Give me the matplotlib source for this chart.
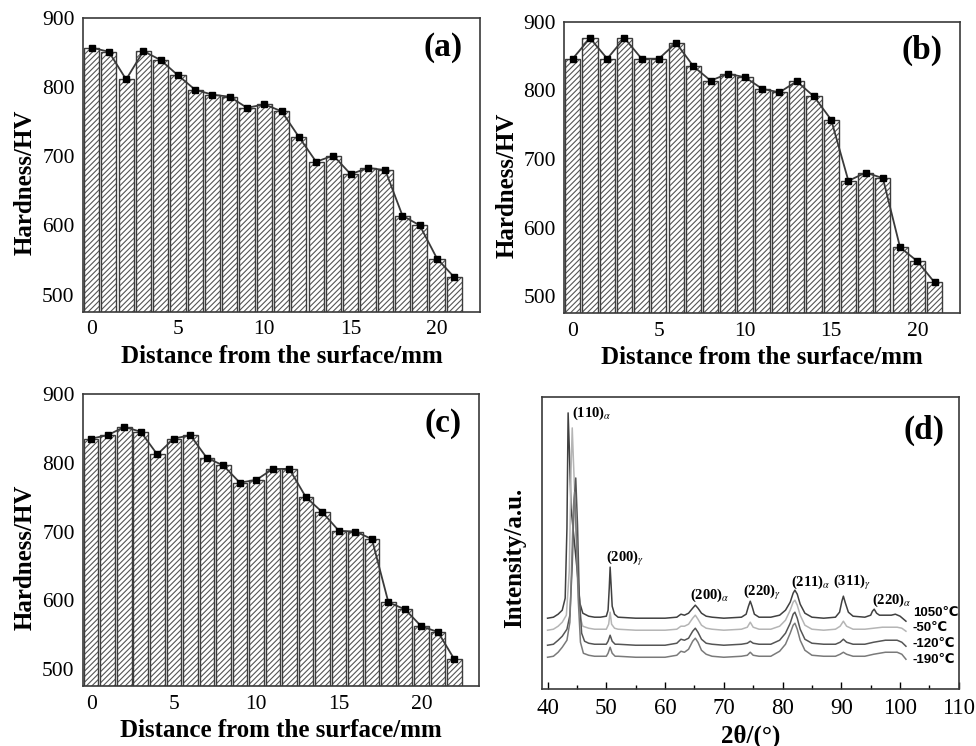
import matplotlib
matplotlib.use("Agg")
import matplotlib.pyplot as plt
import numpy as np
from matplotlib.ticker import MultipleLocator

plt.rcParams['font.family'] = ['Liberation Serif', 'DejaVu Serif']
plt.rcParams['mathtext.fontset'] = 'stix'
plt.rcParams['hatch.linewidth'] = 0.8

# ---------------- data ----------------
hard_a = [857, 851, 811, 852, 839, 817, 796, 789, 786, 770, 775, 765,
          728, 692, 701, 674, 683, 680, 614, 600, 552, 525]
hard_b = [846, 876, 846, 876, 846, 846, 869, 835, 814, 824, 819, 802,
          797, 813, 791, 757, 668, 680, 672, 571, 551, 520]
hard_c = [835, 840, 852, 845, 812, 835, 840, 807, 796, 771, 775, 791,
          791, 750, 728, 701, 700, 689, 597, 587, 562, 554, 514]

xrd_labels = ['1050℃', '-50℃', '-120℃', '-190℃']
xrd_offsets = [71, 59, 44, 32]
xrd_label_y = [76, 61, 45, 29]

x_1050 = [40, 41, 41.8, 42.5, 43.0, 43.3, 43.5, 43.7, 44.0, 44.5, 45.0, 45.5, 46, 47, 48, 49, 50,
          50.3, 50.5, 50.65, 50.8, 51.0, 51.4, 52, 55, 60, 62, 62.7, 63.3, 64, 64.7, 65.15, 65.6,
          66.2, 67, 68, 70, 73, 73.8, 74.2, 74.5, 74.8, 75.2, 76, 78, 79.5, 80.5, 81.3, 81.8, 82.1,
          82.5, 83, 83.8, 85, 87, 89, 89.7, 90.1, 90.35, 90.7, 91.2, 92, 94, 95, 95.3, 95.6, 96,
          96.5, 97.5, 98.5, 99.2, 100, 101]
y_1050 = [0, 1, 4, 8, 20, 90, 205, 170, 110, 80, 50, 15, 5, 2, 1, 1, 2,
          8, 30, 51, 35, 12, 4, 1, 0, 0, 1, 4, 3, 5, 10, 13, 10,
          5, 2, 1, 0, 1, 4, 12, 17, 12, 4, 1, 1, 3, 8, 16, 25, 28,
          24, 14, 5, 1, 0, 1, 6, 17, 22, 15, 6, 2, 1, 3, 7, 9, 5,
          3, 3, 3, 4, 2, -3]

x_m50 = [40, 41, 41.8, 42.5, 43.2, 43.7, 44.0, 44.2, 44.4, 44.8, 45.2, 45.6, 46, 47, 48, 50,
         50.4, 50.65, 50.9, 51.4, 52, 55, 60, 62, 62.7, 63.3, 64, 64.7, 65.15, 65.6, 66.2, 67,
         68, 70, 73, 74.0, 74.5, 75.0, 76, 78, 79.5, 80.5, 81.3, 81.8, 82.1, 82.5, 83, 83.8, 85,
         87, 89, 89.8, 90.35, 90.9, 92, 94, 95.5, 97, 98.5, 99.5, 100.3, 101]
y_m50 = [0, 1, 4, 8, 15, 60, 160, 202, 170, 110, 50, 12, 4, 2, 1, 1,
         6, 18, 6, 2, 1, 0, 0, 1, 4, 4, 6, 12, 15, 11, 5, 2,
         1, 0, 1, 3, 8, 3, 1, 1, 4, 10, 20, 28, 30, 25, 15, 5, 1,
         0, 1, 4, 9, 4, 1, 1, 2, 3, 3, 3, 2, -1]

x_m120 = [40, 41, 41.8, 42.5, 43.3, 43.8, 44.2, 44.5, 44.8, 45.1, 45.4, 45.8, 46.3, 47, 48, 50,
          50.3, 50.65, 51.0, 51.5, 52, 55, 60, 62, 62.7, 63.3, 64, 64.7, 65.15, 65.6, 66.2, 67,
          68, 70, 73, 74.0, 74.5, 75.0, 76, 78, 79.5, 80.5, 81.3, 81.8, 82.1, 82.5, 83, 83.8, 85,
          87, 89, 89.8, 90.35, 90.9, 92, 94, 95.5, 96.5, 97.5, 98.5, 99.5, 100.3, 101]
y_m120 = [0, 1, 5, 9, 16, 30, 80, 140, 167, 120, 50, 12, 4, 2, 1, 1,
          4, 10, 4, 1, 1, 0, 0, 2, 6, 5, 7, 14, 17, 13, 6, 2,
          1, 0, 1, 2, 4, 2, 1, 1, 5, 12, 22, 31, 33, 27, 16, 6, 2,
          1, 1, 3, 6, 3, 1, 1, 3, 4, 5, 5, 5, 3, -1]

x_m190 = [40, 41, 41.8, 42.5, 43.3, 43.8, 44.1, 44.4, 44.6, 44.9, 45.2, 45.6, 46.1, 47, 48, 50,
          50.3, 50.65, 51.0, 51.5, 52, 55, 60, 62, 62.7, 63.3, 64, 64.7, 65.15, 65.6, 66.2, 67,
          68, 70, 73, 74.0, 74.5, 75.0, 76, 78, 79.5, 80.5, 81.3, 81.8, 82.1, 82.5, 83, 83.8, 85,
          87, 89, 89.8, 90.35, 90.9, 92, 94, 95.5, 96.5, 97.5, 98.5, 99.5, 100.3, 101]
y_m190 = [0, 1, 5, 10, 17, 35, 90, 150, 165, 120, 60, 15, 4, 2, 1, 1,
          4, 10, 4, 1, 1, 0, 0, 2, 6, 5, 8, 16, 19, 15, 7, 3,
          1, 0, 1, 2, 5, 2, 1, 1, 6, 13, 24, 32, 34, 28, 17, 7, 2,
          1, 1, 3, 5, 3, 1, 1, 3, 4, 5, 5, 5, 3, -2]

peak_labels = [r'(110)$_\alpha$', r'(200)$_\gamma$', r'(200)$_\alpha$', r'(220)$_\gamma$',
               r'(211)$_\alpha$', r'(311)$_\gamma$', r'(220)$_\alpha$']
peak_label_x = [44.2, 50.0, 64.3, 73.2, 81.5, 88.6, 95.2]
peak_label_y = [276, 131, 94, 97, 107, 107, 89]

# ---------------- figure ----------------
fig = plt.figure(figsize=(9.76, 7.46), dpi=100)

frame_col = '#3a3a3a'
tick_fs = 15.5
lab_fs = 18


def hardness_panel(rect, vals, xmax, letter):
    ax = fig.add_axes(rect)
    x = np.arange(len(vals))
    ax.bar(x, vals, width=0.88, color='white', edgecolor='#555555', hatch='//////',
           linewidth=0, zorder=1)
    ax.bar(x, vals, width=0.88, fill=False, edgecolor='#3c3c3c', linewidth=1.0, zorder=2)
    ax.plot(x, vals, '-s', color='#3a3a3a', lw=1.3, ms=5, mfc='black', mec='black', zorder=3)
    ax.set_xlim(-0.5, xmax)
    ax.set_ylim(475, 900)
    ax.set_yticks([500, 600, 700, 800, 900])
    ax.set_xticks([0, 5, 10, 15, 20])
    ax.tick_params(length=0, labelsize=tick_fs, pad=6)
    for s in ax.spines.values():
        s.set_color(frame_col)
        s.set_linewidth(1.2)
    ax.set_ylabel('Hardness/HV', fontsize=lab_fs, fontweight='bold', va='center')
    ax.yaxis.set_label_coords(-0.145, 0.44)
    ax.set_xlabel('Distance from the surface/mm', fontsize=lab_fs, fontweight='bold')
    ax.text(0.955, 0.90, letter, transform=ax.transAxes, ha='right', va='center',
            fontsize=24, fontweight='bold')
    return ax


ax_a = hardness_panel([0.085, 0.582, 0.407, 0.394], hard_a, 22.5, '(a)')
ax_b = hardness_panel([0.578, 0.580, 0.406, 0.391], hard_b, 22.5, '(b)')
ax_c = hardness_panel([0.085, 0.080, 0.406, 0.392], hard_c, 23.5, '(c)')

ax_d = fig.add_axes([0.555, 0.076, 0.428, 0.392])
xrd_x = [x_1050, x_m50, x_m120, x_m190]
xrd_y = [y_1050, y_m50, y_m120, y_m190]
xrd_cols = ['#404040', '#b5b5b5', '#555555', '#7a7a7a']
for xs, ys, off, col in zip(xrd_x, xrd_y, xrd_offsets, xrd_cols):
    ax_d.plot(xs, np.array(ys) + off, color=col, lw=1.1)
for lab, ly in zip(xrd_labels, xrd_label_y):
    ax_d.text(102.2, ly, lab, fontsize=9.5, fontweight='bold',
              family=['Liberation Sans', 'DejaVu Sans'], ha='left', va='center')
for lab, px, py in zip(peak_labels, peak_label_x, peak_label_y):
    ax_d.text(px, py, lab, fontsize=10.5, fontweight='bold', ha='left', va='center')
ax_d.set_xlim(39, 110.1)
ax_d.set_ylim(0, 292)
ax_d.set_yticks([])
ax_d.set_xticks([40, 50, 60, 70, 80, 90, 100, 110])
ax_d.xaxis.set_minor_locator(MultipleLocator(5))
ax_d.tick_params(axis='x', which='major', direction='in', length=5, width=1, labelsize=tick_fs + 1, pad=6)
ax_d.tick_params(axis='x', which='minor', direction='in', length=3, width=1)
for s in ax_d.spines.values():
    s.set_color(frame_col)
    s.set_linewidth(1.2)
ax_d.set_ylabel('Intensity/a.u.', fontsize=lab_fs, fontweight='bold', va='center')
ax_d.yaxis.set_label_coords(-0.065, 0.449)
ax_d.set_xlabel('2θ/(°)', fontsize=lab_fs, fontweight='bold')
ax_d.text(0.964, 0.887, '(d)', transform=ax_d.transAxes, ha='right', va='center',
          fontsize=24, fontweight='bold')

fig.savefig('out.png', dpi=100)
